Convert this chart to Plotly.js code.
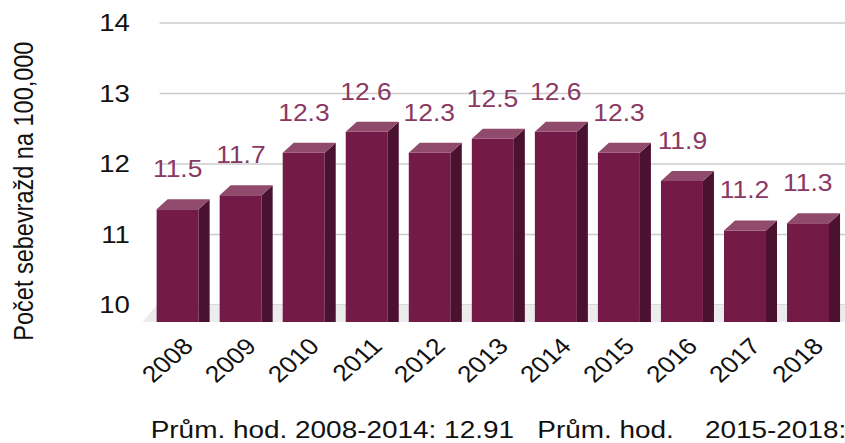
<!DOCTYPE html>
<html><head><meta charset="utf-8">
<script src="https://cdn.plot.ly/plotly-3.0.1.min.js"></script>
<style>
html,body{margin:0;padding:0;overflow:hidden;background:#fff;}
#wrap{width:845px;height:443px;overflow:hidden;}
#chart{width:735px;height:443px;transform:scaleX(1.1497);transform-origin:0 0;}
</style></head><body><div id="wrap"><div id="chart"></div></div>
<script>
// ---- data ----
const years = ['2008','2009','2010','2011','2012','2013','2014','2015','2016','2017','2018'];
const values = [11.5, 11.7, 12.3, 12.6, 12.3, 12.5, 12.6, 12.3, 11.9, 11.2, 11.3];
const yTicks = [10, 11, 12, 13, 14];
const yTitle = 'Počet sebevražd na 100,000';
const footnote = 'Prům. hod. 2008-2014: 12.91\u00a0\u00a0\u00a0Prům. hod.\u00a0\u00a0\u00a0\u00a02015-2018:';

// ---- geometry / style ----
const halfW = 0.333, dx = 0.175, dy = 0.142;
const floorY = 9.759, yTop = 14.184, xMin = -0.556, xMax = 10.587;
const FRONT = '#731b46', SIDE = '#4a1230', TOP = '#8f4a6c', LABEL = '#8a3862';
const FONT = 'Liberation Sans, Arial, sans-serif';

const idx = years.map((_, i) => i);

const floorTrace = {
  type: 'scatter', mode: 'lines', fill: 'toself', fillcolor: '#ececec',
  x: [xMin, xMax, xMax, -0.333], y: [floorY, floorY, yTicks[0], yTicks[0]],
  line: {width: 0}, hoverinfo: 'skip'
};

const fx = [], fy = [], sx = [], sy = [], tx = [], ty = [];
values.forEach((v, i) => {
  const xl = i - halfW, xr = i + halfW;
  fx.push(xl, xr, xr, xl, xl, null);
  fy.push(floorY, floorY, v - dy, v - dy, floorY, null);
  sx.push(xr, xr, xr + dx, xr + dx, xr, null);
  sy.push(floorY, v - dy, v, floorY, floorY, null);
  tx.push(xl, xr, xr + dx, xl + dx, xl, null);
  ty.push(v - dy, v - dy, v, v, v - dy, null);
});
const frontTrace = {type: 'scatter', mode: 'lines', fill: 'toself', fillcolor: FRONT,
  x: fx, y: fy, line: {width: 0}, hoverinfo: 'skip'};
const sideTrace = {type: 'scatter', mode: 'lines', fill: 'toself', fillcolor: SIDE,
  x: sx, y: sy, line: {width: 0}, hoverinfo: 'skip'};
const topTrace = {type: 'scatter', mode: 'lines', fill: 'toself', fillcolor: TOP,
  x: tx, y: ty, line: {width: 0}, hoverinfo: 'skip'};

const ann = values.map((v, i) => ({
  x: i, y: v, xref: 'x', yref: 'y', text: v.toFixed(1), showarrow: false,
  yanchor: 'bottom', yshift: 15, font: {family: FONT, size: 23, color: LABEL}
}));
ann.push({xref: 'paper', yref: 'paper', x: -0.170, y: 0.418, text: yTitle,
  textangle: -90, showarrow: false, xanchor: 'center', yanchor: 'middle',
  font: {family: FONT, size: 23.5, color: '#111'}});
ann.push({xref: 'paper', yref: 'paper', x: 0.0085, y: -0.296, text: footnote,
  showarrow: false, xanchor: 'left', yanchor: 'top',
  font: {family: FONT, size: 24.3, color: '#111'}});

const shapes = yTicks.map(t => ({type: 'line', layer: 'below', xref: 'x', yref: 'y',
  x0: -0.286, x1: xMax, y0: t, y1: t, line: {color: '#cccccc', width: 1.5}}));

const layout = {
  width: 735, height: 443, margin: {l: 124, r: 0, t: 10, b: 121},
  paper_bgcolor: '#fff', plot_bgcolor: '#fff', showlegend: false,
  xaxis: {range: [xMin, xMax], tickvals: idx.map(i => i + 0.12), ticktext: years, tickangle: -45,
    showgrid: false, zeroline: false, showline: false, ticks: '', ticklabelstandoff: 5,
    tickfont: {family: FONT, size: 23, color: '#111'}},
  yaxis: {range: [floorY, yTop], tickvals: yTicks, showgrid: false, zeroline: false,
    showline: false, ticks: '', ticklabelstandoff: 10,
    tickfont: {family: FONT, size: 24, color: '#111'}},
  shapes: shapes, annotations: ann
};

Plotly.newPlot('chart', [floorTrace, frontTrace, sideTrace, topTrace], layout, {staticPlot: true, displayModeBar: false});
</script></body></html>
